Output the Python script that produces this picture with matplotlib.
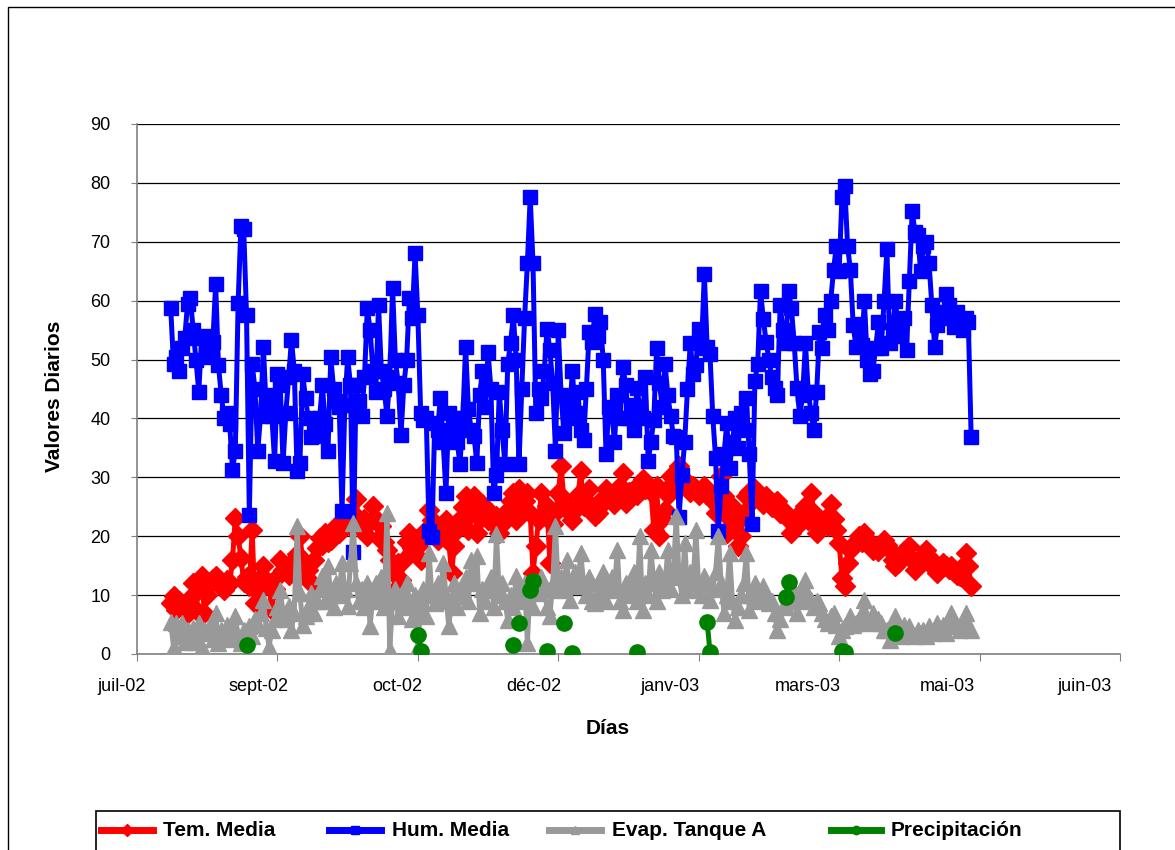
import numpy as np
import matplotlib
matplotlib.use("Agg")
import matplotlib.pyplot as plt
from matplotlib.lines import Line2D
from matplotlib.patches import Rectangle
from matplotlib.transforms import ScaledTranslation

plt.rcParams['font.family'] = ['Liberation Sans', 'DejaVu Sans']

# ---------------- data (daily values, day 0 = first axis tick "juil-02") ----------------
first_day = 12

tem_media = [
    8.6, 9.8, 7.5, 9, 8.5, 8.1, 6.9, 9.5, 12, 7.5,
    11, 13.2, 6.9, 10, 12, 12.8, 13.2, 12, 11.5, 10.9,
    12.5, 12, 16, 23.1, 20, 16.3, 12.3, 13, 11.5, 21,
    8.6, 10.5, 13, 14.9, 12.5, 11.5, 7.5, 11, 13, 16,
    14.3, 15, 13.5, 15, 16, 17, 20, 16, 13, 14.3,
    12, 16, 18, 19.7, 18.5, 20.6, 19, 19.4, 20, 21.7,
    20.5, 22, 23.4, 22, 21.7, 24, 26.3, 22, 21, 23,
    20, 22.5, 25.1, 23, 19.7, 21.7, 19, 17.7, 16, 14,
    10.9, 15.5, 12.6, 16, 19, 20.6, 18, 19.5, 18.3, 16,
    20, 21, 24.5, 22.8, 21, 19.4, 21, 20, 22.8, 19,
    13.8, 18.3, 21, 23, 25, 26.8, 21.1, 24, 26.8, 20.6,
    23, 25.4, 24, 22.8, 24, 22, 23.4, 20.6, 22, 23.5,
    24.5, 26, 27.4, 22.8, 28, 25, 26, 27.4, 24, 13.8,
    18.3, 22.8, 27.4, 24, 25.1, 15.5, 22, 24, 27.4, 31.9,
    26.3, 25, 24, 22.8, 24.5, 27, 31, 25.1, 26, 28,
    25, 23.4, 24, 25.1, 26.5, 28, 27, 26.8, 25.5, 27,
    28.5, 30.8, 25.7, 27.5, 26.8, 28, 27, 28.5, 29.7, 28,
    28.5, 27.5, 21.1, 28.5, 20, 23, 24.5, 27, 30.2, 29,
    30.5, 31.9, 30, 29, 29.1, 27.5, 28.5, 28, 27, 28,
    28.5, 27, 27.4, 26, 24, 25.1, 30.2, 26.8, 20.6, 23,
    25.1, 22, 18.3, 20, 24, 26.8, 27.5, 26, 28, 27,
    26.3, 25.5, 26.8, 26, 25, 25.7, 26, 24, 24.5, 23.5,
    22.8, 20.6, 22, 23.4, 22.3, 24, 25.1, 22.8, 27.4, 24,
    20.6, 21.5, 22.3, 23, 21.7, 25.4, 23, 21.1, 18.9, 12.9,
    11.5, 15.5, 17.7, 18.3, 19, 20, 19, 20.6, 19.5, 18.5,
    17.7, 18.3, 17.5, 18.5, 19.4, 18.5, 17.7, 16, 14.9, 15.5,
    16.6, 17.5, 17, 18.3, 16, 14.3, 15, 16.5, 16, 17.7,
    16.5, 15.5, 14.5, 13.8, 14.5, 15.5, 15, 14.5, 14.9, 14,
    13.5, 13.2, 15, 17.2, 15, 11.5,
]

hum_media = [
    58.7, 49.3, 50.5, 48.1, 52, 53.7, 59.5, 60.5, 55, 49.9,
    44.5, 53.7, 54, 52, 50.5, 53, 62.8, 49, 44, 40.1,
    41, 39, 31.3, 34.5, 59.6, 72.6, 72.2, 57.5, 23.6, 49.3,
    45, 34.5, 40.5, 52.2, 41.6, 44, 40.5, 32.7, 47.5, 45.7,
    32.4, 41, 47, 53.4, 48.1, 31, 32.5, 47.5, 43.4, 40,
    36.9, 39, 37, 40, 45.7, 39, 34.5, 50.4, 45, 43,
    42, 24.2, 42.2, 50.4, 45.7, 17.4, 45.7, 43, 40.4, 47,
    58.7, 55, 48.1, 44.5, 59.3, 48.1, 45, 40.4, 47, 62.2,
    49.9, 46, 37.2, 45.7, 50, 60.5, 57, 68.1, 57.5, 41,
    39.8, 40, 20.9, 19.8, 39.2, 38, 43.4, 36, 27.4, 41,
    37.5, 40, 36, 32.2, 40, 52.2, 41.6, 38, 37, 32.4,
    44, 48.1, 42, 51.3, 45, 27.4, 30.4, 44.5, 38, 32.2,
    49.3, 52.8, 57.5, 50, 32.2, 45, 57, 66.4, 77.6, 66.4,
    41, 45, 43.4, 48, 55.2, 51.6, 46, 34.5, 55, 44,
    37.5, 43, 40, 48.1, 41, 44.5, 38, 36.3, 45, 54.6,
    53, 57.8, 54, 56.3, 49.9, 33.9, 42, 41.6, 36, 44,
    40, 48.7, 45.7, 40, 42.2, 38, 45.1, 42, 40, 47,
    32.7, 36, 39.8, 51.9, 46, 42, 49.3, 44, 40.4, 37,
    36.9, 23.3, 30.4, 36, 45, 52.8, 47.5, 49, 55.2, 52,
    64.6, 52.2, 51, 40.4, 33.3, 20.9, 28.6, 34, 39.2, 31.6,
    36, 40, 35, 41, 38, 43.4, 33.9, 22.1, 46.3, 49.3,
    61.7, 56.9, 53, 50, 47, 45.1, 44, 59.3, 55, 52.8,
    61.7, 58.7, 52.8, 45.1, 40.4, 44, 52.8, 44.5, 41, 38.1,
    44.5, 54.6, 52, 57.5, 55, 60, 65.2, 69.3, 65, 77.6,
    79.4, 69.3, 65.2, 55.8, 52.2, 56, 52.5, 59.9, 49.9, 47.5,
    48.1, 52, 56.3, 52, 60, 68.7, 52.8, 55, 59.9, 55.8,
    54, 57, 51.6, 63.4, 75.2, 71.7, 71.1, 65, 69.3, 70,
    66.4, 59.3, 52.2, 55.8, 58, 57.5, 61.1, 59.3, 57, 55.5,
    58, 56, 55, 57, 56.3, 36.9,
]

evap_tanque_a = [
    5.5, 1.2, 5.2, 3, 5.2, 2, 4, 2.4, 4.5, 2,
    5.2, 1.2, 4, 3.5, 5, 2.5, 6.9, 1.8, 4, 3,
    5, 2.5, 4.5, 6.4, 3, 1.8, 4, 3.5, 4.7, 3,
    6, 5, 7, 9.2, 4.5, 1.2, 4.1, 6, 8, 10.9,
    7, 6, 8.1, 4.1, 7, 21.7, 10.3, 5, 6.4, 8,
    10.3, 7, 9, 11, 13.2, 9, 14.9, 10, 8, 12,
    10, 15.5, 11, 8.1, 15.5, 22.3, 12, 9, 11, 8,
    12, 4.7, 10, 12, 9, 13, 8, 24, 0.7, 9,
    11, 6.4, 10, 8, 12, 9, 6, 10, 1.2, 8,
    11, 6.4, 17.2, 10, 8.6, 12, 9, 15.5, 10, 4.7,
    9, 12, 8, 9.8, 11, 13, 9, 16, 12, 16.6,
    6.9, 11, 9, 10.9, 13, 8, 20.3, 10, 12, 9,
    5.8, 10, 8, 13.2, 10, 9, 12, 1.8, 12, 8,
    11, 10.3, 13, 10.9, 8, 6.4, 12, 21.7, 10.9, 13,
    11, 16, 9.2, 12, 14, 11.5, 17.2, 12, 10, 13,
    9, 8.6, 12, 10, 14, 9, 10.9, 13, 11, 17.7,
    9, 7.5, 12, 10, 10.9, 14, 9, 20, 7.5, 12,
    10, 17.7, 12, 9, 14, 10.9, 12, 17.7, 11, 14,
    23.4, 13, 10, 18.9, 10.9, 14, 12, 21.1, 11, 10,
    13.2, 12, 9.2, 11, 14, 20, 12, 6.9, 10, 17.2,
    9, 5.8, 8, 10, 12, 17.2, 7.5, 10, 12, 9,
    9.2, 11.5, 10, 8.6, 9, 7, 4.1, 6, 8, 8.1,
    10, 9, 10.9, 6.9, 9, 11, 12.6, 10, 9.2, 8,
    9, 8.6, 7, 6, 5.2, 6.4, 7, 5, 3, 4,
    4.7, 5.5, 6.4, 5, 5.2, 6, 7, 9.2, 6, 5.2,
    7, 5.8, 6, 5.2, 4, 4, 2.4, 5, 6.4, 4,
    3, 5, 4, 4.7, 3.5, 3, 4, 3.5, 4.1, 3,
    4.7, 3.5, 4, 5.2, 4, 5, 3.5, 5.5, 6.9, 5,
    4.7, 4, 5.5, 6.9, 4.7, 4,
]

precip_days = [39, 100, 101, 134, 136, 140, 141, 146, 152, 155, 178, 203, 204,
               231, 232, 251, 252, 270]
precip_vals = [1.5, 3.2, 0.5, 1.5, 5.2, 10.9, 12.4, 0.5, 5.2, 0.2, 0.4, 5.5, 0.4,
               9.6, 12.3, 0.5, 0.3, 3.5]

tick_days = [0, 50, 100, 150, 200, 250, 300, 350]
tick_labels = ['juil-02', 'sept-02', 'oct-02', 'déc-02', 'janv-03', 'mars-03',
               'mai-03', 'juin-03']
y_ticks = list(range(0, 91, 10))

series_names = ['Tem. Media', 'Hum. Media', 'Evap. Tanque A', 'Precipitación']
series_colors = ['#FF0000', '#0000FF', '#999999', '#008000']
series_markers = ['D', 's', '^', 'o']

# ---------------- figure ----------------
W, H = 1175, 850
fig = plt.figure(figsize=(W / 100, H / 100), dpi=100)
fig.patch.set_facecolor('white')

# chart-area border (left and top visible)
fig.patches.append(Rectangle((8 / W, -0.1), 1.2, 1 - 7 / H + 0.1, transform=fig.transFigure,
                             fill=False, edgecolor='black', linewidth=1.0))

ax = fig.add_axes([137 / W, 1 - 654 / H, (1120 - 137) / W, (654 - 124) / H])

def daily_axis(values):
    return np.arange(first_day, first_day + len(values))

LW = 3.6
ax.plot(daily_axis(tem_media), tem_media, color=series_colors[0], lw=LW,
        marker=series_markers[0], ms=10, mec=series_colors[0], zorder=3)
ax.plot(daily_axis(hum_media), hum_media, color=series_colors[1], lw=LW,
        marker=series_markers[1], ms=10.5, mec=series_colors[1], zorder=4)
ax.plot(daily_axis(evap_tanque_a), evap_tanque_a, color=series_colors[2], lw=LW,
        marker=series_markers[2], ms=11.5, mec=series_colors[2], zorder=5)

pr_days = np.arange(min(precip_days), max(precip_days) + 1)
pr_full = np.full(len(pr_days), np.nan)
for d, v in zip(precip_days, precip_vals):
    pr_full[d - pr_days[0]] = v
ax.plot(pr_days, pr_full, color=series_colors[3], lw=LW,
        marker=series_markers[3], ms=11, mec=series_colors[3], zorder=6)

ax.set_xlim(0, 350)
ax.set_ylim(0, 90)
ax.set_yticks(y_ticks)
ax.yaxis.grid(True, color='black', linewidth=0.9)
ax.set_axisbelow(True)
for s in ['top', 'right']:
    ax.spines[s].set_visible(False)
for s in ['left', 'bottom']:
    ax.spines[s].set_color('#808080')
    ax.spines[s].set_linewidth(1.2)
    ax.spines[s].set_zorder(2)

ax.set_xticks(tick_days)
ax.set_xticklabels(tick_labels)
ax.tick_params(axis='x', direction='out', length=5, color='#808080', labelsize=13, pad=12)
ax.tick_params(axis='y', direction='out', length=4, color='#808080', labelsize=13, pad=15)
label_shift_px = [-15, -19, -21, -24, -29, -31, -32, -35]
for lab, sh in zip(ax.get_xticklabels(), label_shift_px):
    lab.set_transform(lab.get_transform() + ScaledTranslation(sh / 100, 0, fig.dpi_scale_trans))

fig.text(55 / W, 1 - 396 / H, 'Valores Diarios', rotation=90, ha='center', va='center',
         fontsize=15, fontweight='bold')
fig.text(608 / W, 1 - 728 / H, 'Días', ha='center', va='center',
         fontsize=15, fontweight='bold')

# ---------------- legend ----------------
fig.patches.append(Rectangle((96 / W, -0.1), (1120 - 96) / W, 1 - 811 / H + 0.1,
                             transform=fig.transFigure, fill=False,
                             edgecolor='black', linewidth=1.2))
leg_line_x = [(101, 153), (329, 381), (549, 601), (831, 881)]
leg_text_x = [163, 392, 612, 891]
leg_y = 830
for (x0, x1), tx, name, col, mk in zip(leg_line_x, leg_text_x, series_names,
                                       series_colors, series_markers):
    fig.add_artist(Line2D([x0 / W, x1 / W], [1 - leg_y / H, 1 - leg_y / H],
                          transform=fig.transFigure, color=col, lw=5))
    fig.add_artist(Line2D([(x0 + x1) / 2 / W], [1 - leg_y / H], transform=fig.transFigure,
                          color=col, marker=mk, ms=6, mec=col, lw=0))
    fig.text(tx / W, 1 - leg_y / H, name, ha='left', va='center', fontsize=15,
             fontweight='bold')

fig.savefig('out.png', dpi=100)
